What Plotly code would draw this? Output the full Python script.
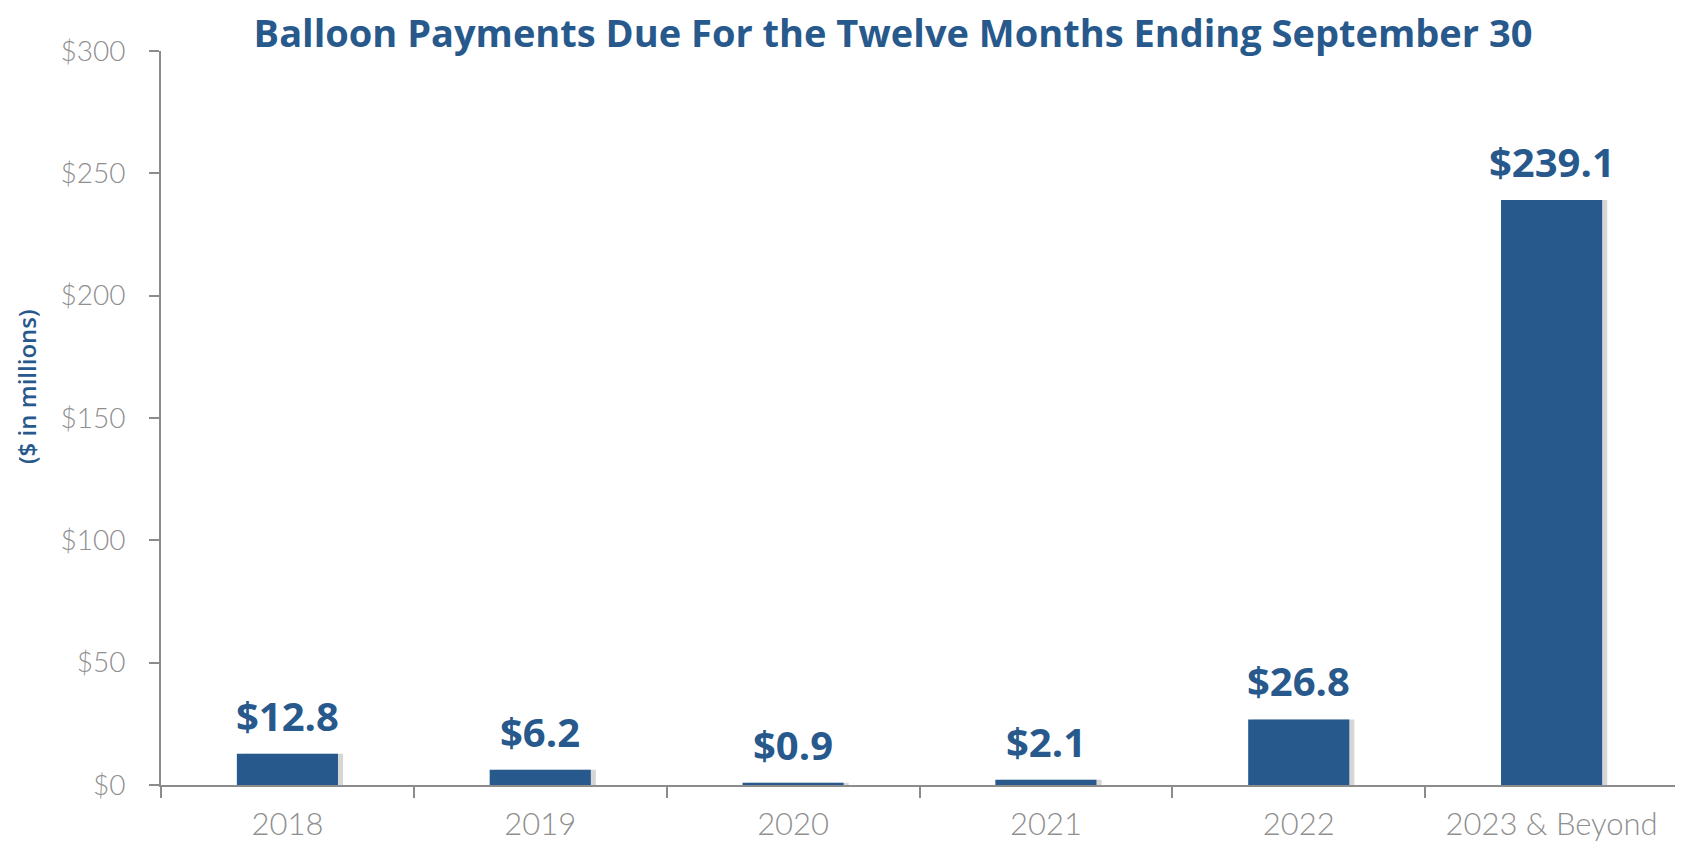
import plotly.graph_objects as go

categories = ["2018", "2019", "2020", "2021", "2022", "2023 & Beyond"]
values = [12.8, 6.2, 0.9, 2.1, 26.8, 239.1]
labels = ["$12.8", "$6.2", "$0.9", "$2.1", "$26.8", "$239.1"]

BLUE = "#27598c"
GRAY = "#8c8c8c"
TICKGRAY = "#8f8f8f"

# page body adds an 8px margin, so the figure is sized/offset to compensate
W, H = 1675, 833
L, R, T, B = 153, 5, 43, 56

fig = go.Figure()
# soft shadow behind the bars
fig.add_trace(go.Bar(
    x=categories, y=values, width=0.4, offset=-0.18,
    marker=dict(color="rgba(0,0,0,0.16)", line=dict(width=0)),
    hoverinfo="skip", showlegend=False,
))
fig.add_trace(go.Bar(
    x=categories, y=values, width=0.4, offset=-0.2,
    marker=dict(color=BLUE, line=dict(width=0)),
    showlegend=False,
))

annotations = [
    dict(x=i, y=v, xref="x", yref="y", text=t, showarrow=False,
         yanchor="bottom", xanchor="center", yshift=9,
         font=dict(family="Open Sans", size=40, color=BLUE, weight="bold"))
    for i, (v, t) in enumerate(zip(values, labels))
]
annotations.append(dict(
    text="($ in millions)", xref="paper", yref="paper",
    x=(18 - L) / (W - L - R), xanchor="center",
    y=(H - B - 379) / (H - B - T), yanchor="middle",
    textangle=-90, showarrow=False,
    font=dict(family="Open Sans", size=24, color=BLUE, weight=600),
))

fig.update_layout(
    width=W, height=H,
    barmode="overlay",
    paper_bgcolor="white", plot_bgcolor="white",
    margin=dict(l=L, r=R, t=T, b=B),
    title=dict(
        text="Balloon Payments Due For the Twelve Months Ending September 30",
        x=885 / W, xanchor="center", y=1 - 26 / H, yanchor="middle",
        font=dict(family="Open Sans", size=38, color=BLUE, weight="bold"),
    ),
    xaxis=dict(
        type="category", categoryorder="array", categoryarray=categories,
        range=[-0.5, len(categories) - 0.5], automargin=False,
        showline=True, linecolor=GRAY, linewidth=2,
        ticks="outside", tickson="boundaries", ticklen=11, tickwidth=1.5, tickcolor=GRAY,
        tickfont=dict(family="Lato", size=31, color=TICKGRAY, weight=300),
        ticklabelstandoff=11,
        showgrid=False, zeroline=False,
    ),
    yaxis=dict(
        range=[0, 300], dtick=50, tickprefix="$", automargin=False,
        showline=True, linecolor=GRAY, linewidth=2,
        ticks="outside", ticklen=10, tickwidth=1.5, tickcolor=GRAY,
        tickfont=dict(family="Lato", size=28, color=TICKGRAY, weight=300),
        ticklabelstandoff=18,
        showgrid=False, zeroline=False,
    ),
    annotations=annotations,
)

fig.write_html("out.html")
